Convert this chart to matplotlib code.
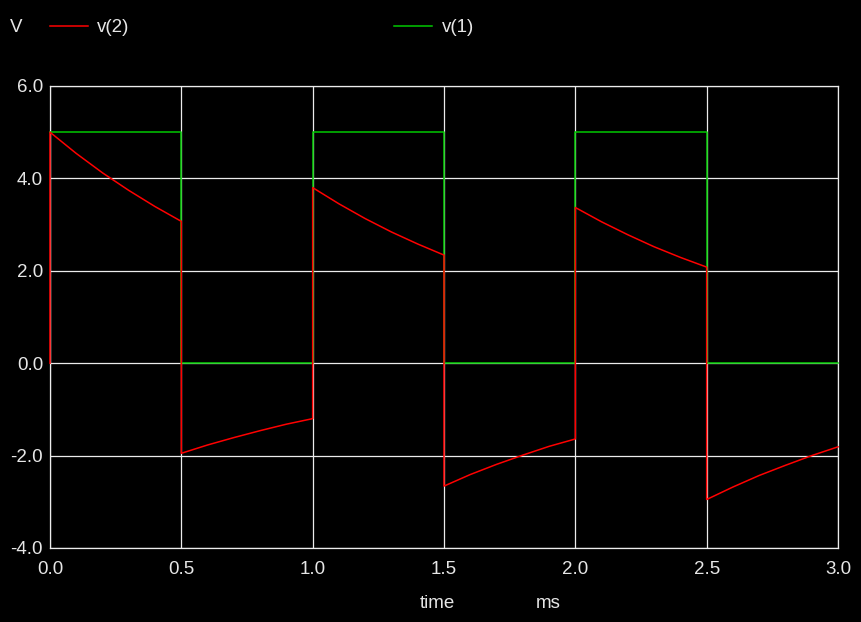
import matplotlib
matplotlib.use('Agg')
import matplotlib.pyplot as plt
from matplotlib.lines import Line2D

# v(2): output of the RC network (ms / V)
v2_time = [0.0, 0.0, 0.1, 0.2, 0.3, 0.4, 0.5,
           0.5, 0.6, 0.7, 0.8, 0.9, 1.0,
           1.0, 1.1, 1.2, 1.3, 1.4, 1.5,
           1.5, 1.6, 1.7, 1.8, 1.9, 2.0,
           2.0, 2.1, 2.2, 2.3, 2.4, 2.5,
           2.5, 2.6, 2.7, 2.8, 2.9, 3.0]
v2 = [0.0, 5.0, 4.54, 4.12, 3.74, 3.39, 3.07,
      -1.95, -1.77, -1.61, -1.46, -1.32, -1.20,
      3.80, 3.45, 3.13, 2.84, 2.58, 2.34,
      -2.66, -2.41, -2.19, -1.99, -1.80, -1.64,
      3.37, 3.06, 2.78, 2.52, 2.29, 2.08,
      -2.95, -2.68, -2.43, -2.21, -2.00, -1.81]

# v(1): square wave input
v1_time = [0.0, 0.5, 0.5, 1.0, 1.0, 1.5, 1.5, 2.0, 2.0, 2.5, 2.5, 3.0]
v1 = [5, 5, 0, 0, 5, 5, 0, 0, 5, 5, 0, 0]

xticks = [0.0, 0.5, 1.0, 1.5, 2.0, 2.5, 3.0]
yticks = [-4.0, -2.0, 0.0, 2.0, 4.0, 6.0]

red = '#ff0000'
green = '#00c800'
txt = '#e6e6e6'
gridc = '#ececec'
plt.rcParams['font.family'] = ['Liberation Sans', 'DejaVu Sans']

fig = plt.figure(figsize=(8.62, 6.22), dpi=100, facecolor='black')
ax = fig.add_axes([50/862, 1-548/622, 788/862, 462/622], facecolor='black')

ax.plot(v1_time, v1, color=green, lw=1.1, zorder=3, clip_on=False)
ax.plot(v2_time, v2, color=red, lw=1.1, zorder=4, clip_on=False)

ax.set_xlim(0, 3)
ax.set_ylim(-4, 6)
ax.set_xticks(xticks)
ax.set_yticks(yticks)
ax.set_xticklabels(['%.1f' % v for v in xticks])
ax.set_yticklabels(['%.1f' % v for v in yticks])
ax.tick_params(length=0, colors=txt, labelsize=13.5)
ax.tick_params(axis='x', pad=9)
ax.tick_params(axis='y', pad=5)
ax.grid(True, color=gridc, lw=0.9)
ax.set_axisbelow(True)
for s in ax.spines.values():
    s.set_color(gridc)
    s.set_linewidth(0.9)
    s.set_zorder(2)

# axis names and legend, LTspice style
fig.text(437/862, 1-604/622, 'time', color=txt, fontsize=13.5, ha='center', va='center')
fig.text(548/862, 1-604/622, 'ms', color=txt, fontsize=13.5, ha='center', va='center')
fig.text(10/862, 1-28/622, 'V', color=txt, fontsize=13.5, ha='left', va='center')
fig.add_artist(Line2D([50/862, 88/862], [1-26/622, 1-26/622], color=red, lw=1.1,
                      transform=fig.transFigure))
fig.text(97/862, 1-28/622, 'v(2)', color=txt, fontsize=13.5, ha='left', va='center')
fig.add_artist(Line2D([394/862, 432/862], [1-26/622, 1-26/622], color=green, lw=1.1,
                      transform=fig.transFigure))
fig.text(442/862, 1-28/622, 'v(1)', color=txt, fontsize=13.5, ha='left', va='center')

fig.savefig('out.png', dpi=100, facecolor='black')
